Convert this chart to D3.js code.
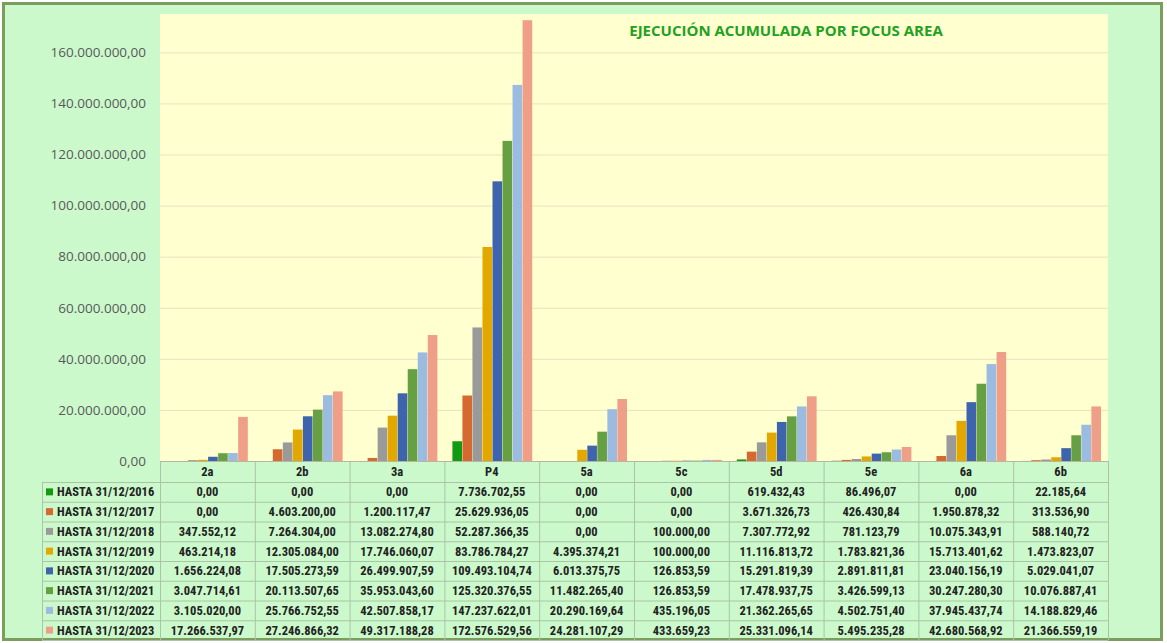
<!DOCTYPE html>
<html>
<head>
<meta charset="utf-8">
<script src="https://cdn.jsdelivr.net/npm/d3@7"></script>
<style>
  body { margin: 0; background: #fff; }
  svg { display: block; }
</style>
</head>
<body>
<div id="plot"></div>
<script>
// focus areas
let categories = ['2a', '2b', '3a', 'P4', '5a', '5c', '5d', '5e', '6a', '6b'];

// accumulated execution per year (one array per series)
let hasta2016 = [0, 0, 0, 7736702.55, 0, 0, 619432.43, 86496.07, 0, 22185.64];
let hasta2017 = [0, 4603200.00, 1200117.47, 25629936.05, 0, 0, 3671326.73, 426430.84, 1950878.32, 313536.90];
let hasta2018 = [347552.12, 7264304.00, 13082274.80, 52287366.35, 0, 100000.00, 7307772.92, 781123.79, 10075343.91, 588140.72];
let hasta2019 = [463214.18, 12305084.00, 17746060.07, 83786784.27, 4395374.21, 100000.00, 11116813.72, 1783821.36, 15713401.62, 1473823.07];
let hasta2020 = [1656224.08, 17505273.59, 26499907.59, 109493104.74, 6013375.75, 126853.59, 15291819.39, 2891811.81, 23040156.19, 5029041.07];
let hasta2021 = [3047714.61, 20113507.65, 35953043.60, 125320376.55, 11482265.40, 126853.59, 17478937.75, 3426599.13, 30247280.30, 10076887.41];
let hasta2022 = [3105020.00, 25766752.55, 42507858.17, 147237622.01, 20290169.64, 435196.05, 21362265.65, 4502751.40, 37945437.74, 14188829.46];
let hasta2023 = [17266537.97, 27246866.32, 49317188.28, 172576529.56, 24281107.29, 433659.23, 25331096.14, 5495235.28, 42680568.92, 21366559.19];

let seriesNames = ['HASTA 31/12/2016', 'HASTA 31/12/2017', 'HASTA 31/12/2018', 'HASTA 31/12/2019',
                   'HASTA 31/12/2020', 'HASTA 31/12/2021', 'HASTA 31/12/2022', 'HASTA 31/12/2023'];
let seriesValues = [hasta2016, hasta2017, hasta2018, hasta2019, hasta2020, hasta2021, hasta2022, hasta2023];

let yTicks = [0, 20e6, 40e6, 60e6, 80e6, 100e6, 120e6, 140e6, 160e6];

let title = 'EJECUCIÓN ACUMULADA POR FOCUS AREA';

let width = 1167, height = 643;

let plot = { left: 160, right: 1108, top: 14, bottom: 461 };
let table = { left: 42, headerH: 21, rowH: 19.75 };

const colors = d3.scaleOrdinal()
  .domain(seriesNames)
  .range(['#129b12', '#d5692f', '#9a9a9a', '#e2a800', '#3e64ad', '#67a043', '#9bbbe0', '#ef9f88']);

const es = d3.formatLocale({ decimal: ',', thousands: '.', grouping: [3], currency: ['', '€'] });
const fmt = es.format(',.2f');

let svg = d3.select('#plot')
  .append('svg')
  .attr('width', width)
  .attr('height', height);

// background + frame
svg.append('rect')
  .attr('x', 0).attr('y', 0)
  .attr('width', width).attr('height', height)
  .attr('fill', '#ffffff');

svg.append('rect')
  .attr('x', 3.5).attr('y', 3.5)
  .attr('width', 1158).attr('height', 636)
  .attr('fill', '#ccf9cc')
  .attr('stroke', '#7b9d5e')
  .attr('stroke-width', 3);

// plot area
svg.append('rect')
  .attr('x', plot.left).attr('y', plot.top)
  .attr('width', plot.right - plot.left).attr('height', plot.bottom - plot.top)
  .attr('fill', '#ffffcf');

let yScale = d3.scaleLinear()
  .domain([0, 175e6])
  .range([plot.bottom, plot.top]);

let xScale = d3.scaleBand()
  .domain(categories)
  .range([plot.left, plot.right])
  .padding(0);

let xInner = d3.scaleBand()
  .domain(seriesNames)
  .range([8, xScale.bandwidth() - 7])
  .paddingInner(0.04);

// grid lines
svg.append('g')
  .selectAll('line')
  .data(yTicks.filter(d => d > 0))
  .enter()
  .append('line')
  .attr('x1', plot.left).attr('x2', plot.right)
  .attr('y1', d => yScale(d) + 0.5).attr('y2', d => yScale(d) + 0.5)
  .attr('stroke', '#e9e2c2')
  .attr('stroke-width', 1);

// y axis labels
let yAxis = svg.append('g')
  .attr('transform', `translate(${plot.left},0)`)
  .call(d3.axisLeft(yScale).tickValues(yTicks).tickFormat(fmt).tickSize(0).tickPadding(14));

yAxis.select('.domain').remove();
yAxis.selectAll('text')
  .attr('font-family', '"Open Sans", sans-serif')
  .attr('font-size', 13.5)
  .attr('fill', '#595959');

// bars
let groups = svg.append('g')
  .selectAll('g')
  .data(seriesNames.map((name, i) => ({ name, values: seriesValues[i] })))
  .enter()
  .append('g')
  .attr('fill', d => colors(d.name));

groups.selectAll('rect')
  .data(d => d.values.map((v, j) => ({ name: d.name, cat: categories[j], v })))
  .enter()
  .append('rect')
  .attr('x', d => xScale(d.cat) + xInner(d.name))
  .attr('y', d => yScale(d.v))
  .attr('width', xInner.bandwidth())
  .attr('height', d => plot.bottom - yScale(d.v));

// title
svg.append('text')
  .attr('x', 786).attr('y', 36)
  .attr('text-anchor', 'middle')
  .attr('font-family', '"Open Sans", sans-serif')
  .attr('font-weight', 'bold')
  .attr('font-size', 15)
  .attr('fill', '#22a122')
  .text(title);

// data table
let tbl = svg.append('g');
let gridColor = '#a9c4a6';
let tableFont = '"Liberation Sans Narrow", "Roboto Condensed", "DejaVu Sans Condensed", sans-serif';
let tableSize = 12.5;
let textColor = '#222';
let rowsTop = plot.bottom + table.headerH;
let tableBottom = rowsTop + table.rowH * seriesNames.length;

// horizontal lines
let hLines = [plot.bottom, rowsTop].concat(seriesNames.map((s, i) => rowsTop + table.rowH * (i + 1)));
tbl.selectAll('line.h')
  .data(hLines)
  .enter()
  .append('line')
  .attr('x1', (d, i) => i === 0 ? plot.left : table.left)
  .attr('x2', plot.right)
  .attr('y1', d => d + 0.5).attr('y2', d => d + 0.5)
  .attr('stroke', (d, i) => i === 0 ? '#b7b7a0' : gridColor);

// vertical lines
let vLines = categories.map(c => xScale(c)).concat([plot.right]);
tbl.selectAll('line.v')
  .data(vLines)
  .enter()
  .append('line')
  .attr('x1', d => d + 0.5).attr('x2', d => d + 0.5)
  .attr('y1', plot.bottom).attr('y2', tableBottom)
  .attr('stroke', gridColor);

tbl.append('line')
  .attr('x1', table.left + 0.5).attr('x2', table.left + 0.5)
  .attr('y1', rowsTop).attr('y2', tableBottom)
  .attr('stroke', gridColor);

// header (categories)
tbl.selectAll('text.cat')
  .data(categories)
  .enter()
  .append('text')
  .attr('x', d => xScale(d) + xScale.bandwidth() / 2)
  .attr('y', plot.bottom + table.headerH / 2 + 4.5)
  .attr('text-anchor', 'middle')
  .attr('font-family', tableFont)
  .attr('font-weight', 'bold')
  .attr('font-size', tableSize)
  .attr('fill', textColor)
  .text(d => d);

// row labels with legend keys
seriesNames.forEach((name, i) => {
  let yMid = rowsTop + table.rowH * i + table.rowH / 2;
  tbl.append('rect')
    .attr('x', table.left + 4).attr('y', yMid - 3.5)
    .attr('width', 7).attr('height', 7)
    .attr('fill', colors(name));
  tbl.append('text')
    .attr('x', table.left + 15).attr('y', yMid + 4.5)
    .attr('font-family', tableFont)
    .attr('font-weight', 'bold')
    .attr('font-size', tableSize)
    .attr('fill', textColor)
    .text(name);

  tbl.selectAll(null)
    .data(seriesValues[i])
    .enter()
    .append('text')
    .attr('x', (d, j) => xScale(categories[j]) + xScale.bandwidth() / 2)
    .attr('y', yMid + 4.5)
    .attr('text-anchor', 'middle')
    .attr('font-family', tableFont)
    .attr('font-weight', 'bold')
    .attr('font-size', tableSize)
    .attr('fill', textColor)
    .text(d => fmt(d));
});
</script>
</body>
</html>
